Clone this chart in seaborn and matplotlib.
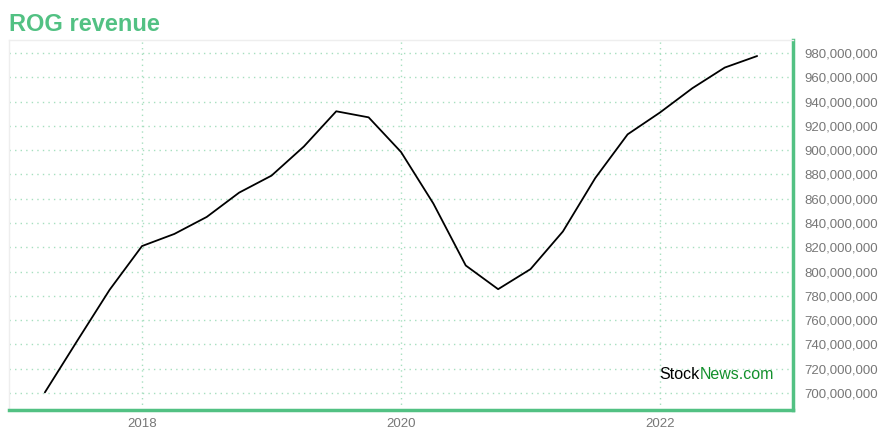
import pandas as pd
import seaborn as sns
import matplotlib.pyplot as plt
import matplotlib.ticker as mticker

# quarterly revenue
quarters = [2017.25, 2017.5, 2017.75, 2018.0, 2018.25, 2018.5, 2018.75, 2019.0,
            2019.25, 2019.5, 2019.75, 2020.0, 2020.25, 2020.5, 2020.75, 2021.0,
            2021.25, 2021.5, 2021.75, 2022.0, 2022.25, 2022.5, 2022.75]
revenue = [700.5, 743, 785, 821, 831, 845, 865, 879,
           903, 932, 927, 898.5, 856, 805, 785.5, 802,
           833, 877, 913, 931, 951, 968, 977.5]
year_ticks = [2018, 2020, 2022]
y_ticks = list(range(700, 981, 20))

df = pd.DataFrame({"quarter": quarters, "revenue": [v * 1e6 for v in revenue]})

sns.set_style("white")
plt.rcParams['font.family'] = ['Liberation Sans', 'DejaVu Sans']

green = "#52c183"
grid_green = "#a6dfbf"

fig = plt.figure(figsize=(8.8, 4.4), dpi=100)
ax = fig.add_axes([9 / 880, 30 / 440, 784 / 880, 370 / 440])

sns.lineplot(data=df, x="quarter", y="revenue", color="black", linewidth=1.3, ax=ax)

ax.set_xlim(2016.973, 2023.027)
ax.set_ylim(686e6, 990.7e6)
ax.set_xticks(year_ticks)
ax.set_xticklabels([str(y) for y in year_ticks])
ax.set_yticks([v * 1e6 for v in y_ticks])
ax.yaxis.set_major_formatter(mticker.FuncFormatter(lambda v, p: f"{v:,.0f}"))
ax.yaxis.tick_right()
ax.tick_params(axis="both", length=0, labelsize=9.5, colors="#777777")
ax.tick_params(axis="y", pad=8)
ax.tick_params(axis="x", pad=6)
ax.set_xlabel("")
ax.set_ylabel("")

ax.grid(True, color=grid_green, linestyle=(0, (1, 3)), linewidth=1)

for side in ["top", "left"]:
    ax.spines[side].set_color("#eeeeee")
    ax.spines[side].set_linewidth(1)
for side in ["right", "bottom"]:
    ax.spines[side].set_color(green)
    ax.spines[side].set_linewidth(2.5)

fig.text(9 / 880, 1 - 31 / 440, "ROG revenue", color=green, fontsize=17,
         fontweight="bold", ha="left", va="baseline")

# watermark
t1 = ax.text(0.830, 0.084, "Stock", transform=ax.transAxes, fontsize=11.5,
             color="black", ha="left", va="baseline")
fig.canvas.draw()
bb = t1.get_window_extent()
x_next = ax.transAxes.inverted().transform((bb.x1, bb.y0))[0]
ax.text(x_next, 0.084, "News.com", transform=ax.transAxes, fontsize=11.5,
        color="#13902c", ha="left", va="baseline")

fig.savefig("out.png", dpi=100)
